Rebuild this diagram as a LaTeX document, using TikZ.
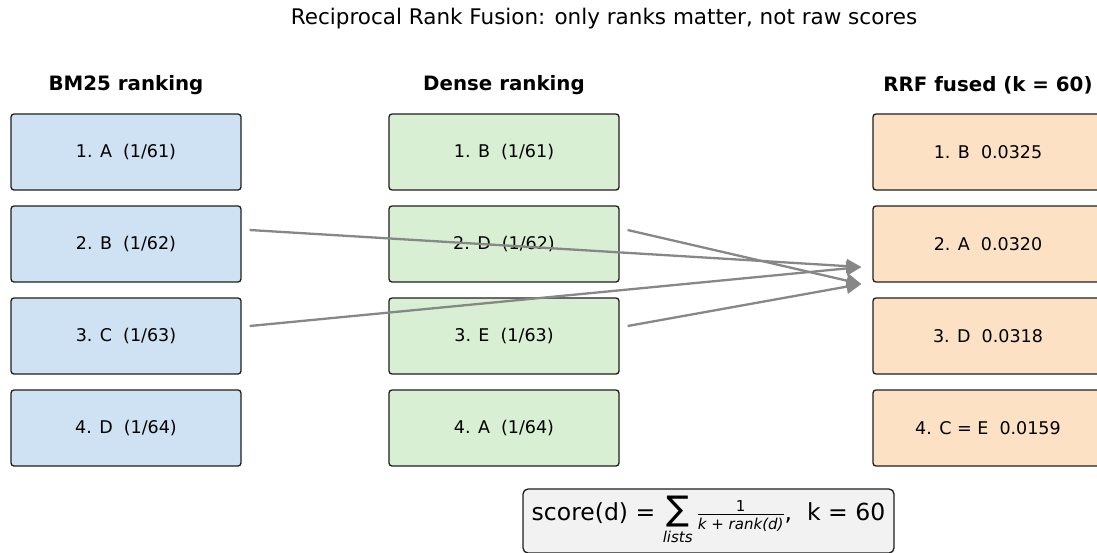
\documentclass[tikz,border=0pt]{standalone}
\usepackage{amsmath}
\usepackage{fontspec}
\setmainfont{DejaVu Sans}
\usetikzlibrary{arrows.meta}
\usepackage{xcolor}
\definecolor{bmblue}{HTML}{CFE2F3}
\definecolor{densegreen}{HTML}{D9EFD3}
\definecolor{fusedorange}{HTML}{FDE1C5}
\definecolor{formulagray}{HTML}{F2F2F2}
\definecolor{arrowgray}{HTML}{878787}
\definecolor{edgeblack}{HTML}{1E1E1E}

\tikzset{
  rankbox/.style={draw=edgeblack, line width=1.3pt, rounded corners=3pt,
    minimum width=230pt, minimum height=76pt, inner sep=0pt,
    font=\fontsize{17.5}{20}\selectfont},
  bmbox/.style={rankbox, fill=bmblue},
  densebox/.style={rankbox, fill=densegreen},
  fusedbox/.style={rankbox, fill=fusedorange},
  colhead/.style={font=\fontsize{19.8}{23}\selectfont\bfseries},
  fusearrow/.style={draw=arrowgray, line width=2.3pt, -{Triangle[length=15pt,width=14pt]}},
  formulabox/.style={draw=edgeblack, line width=1.3pt, rounded corners=5pt, fill=formulagray,
    minimum width=371pt, minimum height=64pt, inner sep=0pt,
    font=\fontsize{23.5}{26}\selectfont}
}

\begin{document}
\begin{tikzpicture}[x=1pt,y=-1pt]
\useasboundingbox (0,0) rectangle (1097,552);
\clip (0,0) rectangle (1097,552);

\node [font=\fontsize{21.5}{25}\selectfont] (title) at (604,19) {Reciprocal Rank Fusion: only ranks matter, not raw scores};

% column headings
\node [colhead] (hbm) at (126,85) {BM25 ranking};
\node [colhead] (hdn) at (504,85) {Dense ranking};
\node [colhead] (hrrf) at (988,85) {RRF fused (k = 60)};

% BM25 list
\node [bmbox] (bm1) at (126,152) {1. A\ \ (1/61)};
\node [bmbox] (bm2) at (126,244) {2. B\ \ (1/62)};
\node [bmbox] (bm3) at (126,336) {3. C\ \ (1/63)};
\node [bmbox] (bm4) at (126,428) {4. D\ \ (1/64)};

% dense list
\node [densebox] (dn1) at (504,152) {1. B\ \ (1/61)};
\node [densebox] (dn2) at (504,244) {2. D\ \ (1/62)};
\node [densebox] (dn3) at (504,336) {3. E\ \ (1/63)};
\node [densebox] (dn4) at (504,428) {4. A\ \ (1/64)};

% fused list
\node [fusedbox] (rrf1) at (988,152) {1. B\ \ 0.0325};
\node [fusedbox] (rrf2) at (988,244) {2. A\ \ 0.0320};
\node [fusedbox] (rrf3) at (988,336) {3. D\ \ 0.0318};
\node [fusedbox] (rrf4) at (988,428) {4. C = E\ \ 0.0159};

\draw [fusearrow] ([shift={(8,-14)}]bm2.east) -- ([shift={(-11,23)}]rrf2.west);
\draw [fusearrow] ([shift={(8,-10)}]bm3.east) -- ([shift={(-11,23)}]rrf2.west);
\draw [fusearrow] ([shift={(8,-14)}]dn2.east) -- ([shift={(-11,40)}]rrf2.west);
\draw [fusearrow] ([shift={(8,-10)}]dn3.east) -- ([shift={(-11,40)}]rrf2.west);

\node [formulabox] (formula) at (708.5,521) {score(d) = $\mathop{\text{\fontsize{34}{34}\selectfont ∑}}\limits_{\text{\fontsize{15}{15}\selectfont\itshape lists}}\frac{\text{\fontsize{15}{15}\selectfont 1}}{\text{\fontsize{15}{15}\selectfont\itshape k + rank(d)}}$,\ \ k = 60};

\end{tikzpicture}
\end{document}
